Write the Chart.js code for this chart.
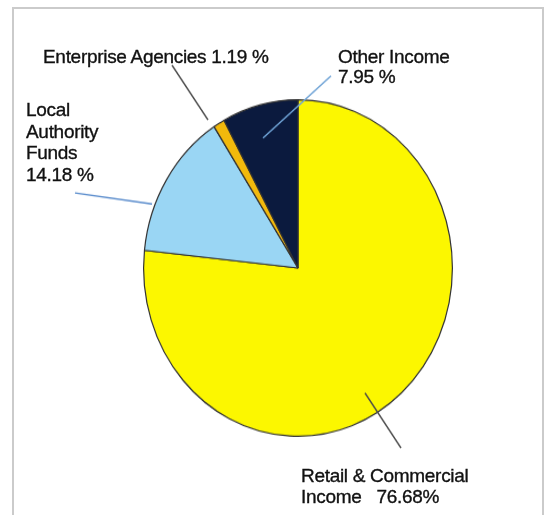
<!doctype html>
<html lang="en">
<head>
  <meta charset="utf-8">
  <title>Income Sources</title>
  <style>
    html, body {
      margin: 0;
      padding: 0;
      background: #fff;
      width: 545px;
      height: 515px;
      overflow: hidden;
    }
    .frame {
      position: absolute;
      left: 12px;
      top: 7px;
      width: 528px;
      height: 520px;
      border: 2px solid #cbcbcb;
    }
    #pie {
      position: absolute;
      left: 0;
      top: 0;
      /* the printed pie is a little taller than it is wide */
      transform-origin: 298px 268px;
      transform: scaleY(1.09);
    }
    .lbl {
      position: absolute;
      font-family: 'Liberation Sans', Arial, sans-serif;
      font-size: 19px;
      letter-spacing: -0.3px;
      color: #111;
      -webkit-text-stroke: 0.35px #111;
      white-space: pre;
    }
  </style>
</head>
<body>
  <div class="frame"></div>
  <canvas id="pie" width="545" height="515"></canvas>

  <div class="lbl" style="left:43px; top:46px; line-height:21px;">Enterprise Agencies 1.19 %</div>
  <div class="lbl" style="left:338px; top:47px; line-height:20px;">Other Income<br>7.95 %</div>
  <div class="lbl" style="left:26px; top:99px; line-height:21.7px;">Local<br>Authority<br>Funds<br>14.18 %</div>
  <div class="lbl" style="left:301px; top:465px; line-height:21px;">Retail &amp; Commercial<br>Income   76.68%</div>

  <script src="https://cdn.jsdelivr.net/npm/chart.js"></script>
  <script>
    const sources = ['Retail & Commercial Income', 'Local Authority Funds', 'Enterprise Agencies', 'Other Income'];
    const shares  = [76.68, 14.18, 1.19, 7.95];
    const colours = ['#fcf700', '#9ad6f4', '#f2b90c', '#0b1a3e'];

    const SY = 1.09, CX = 298, CY = 268;

    // callout lines, in page pixels: [x1, y1, x2, y2, colour]
    const leaders = [
      [172, 65, 208, 120, '#4a4a4a'],
      [331, 76, 263, 138, '#6fa3d6'],
      [75, 193, 152, 204, '#5a8ccc'],
      [365, 393, 401, 448, '#4a4a4a']
    ];

    const leaderLines = {
      id: 'leaderLines',
      afterDraw(chart) {
        const ctx = chart.ctx;
        ctx.save();
        // undo the vertical stretch so lines land where they are listed
        ctx.translate(CX, CY);
        ctx.scale(1, 1 / SY);
        ctx.translate(-CX, -CY);
        ctx.lineWidth = 1.5;
        leaders.forEach(([x1, y1, x2, y2, c]) => {
          ctx.strokeStyle = c;
          ctx.beginPath();
          ctx.moveTo(x1, y1);
          ctx.lineTo(x2, y2);
          ctx.stroke();
        });
        ctx.restore();
      }
    };

    new Chart(document.getElementById('pie'), {
      type: 'pie',
      data: {
        labels: sources,
        datasets: [{
          data: shares,
          backgroundColor: colours,
          borderColor: '#333',
          borderWidth: 1.2
        }]
      },
      options: {
        responsive: false,
        animation: false,
        layout: { padding: { left: 143, right: 92, top: 113, bottom: 92 } },
        plugins: {
          legend: { display: false },
          tooltip: { enabled: false }
        }
      },
      plugins: [leaderLines]
    });
  </script>
</body>
</html>
